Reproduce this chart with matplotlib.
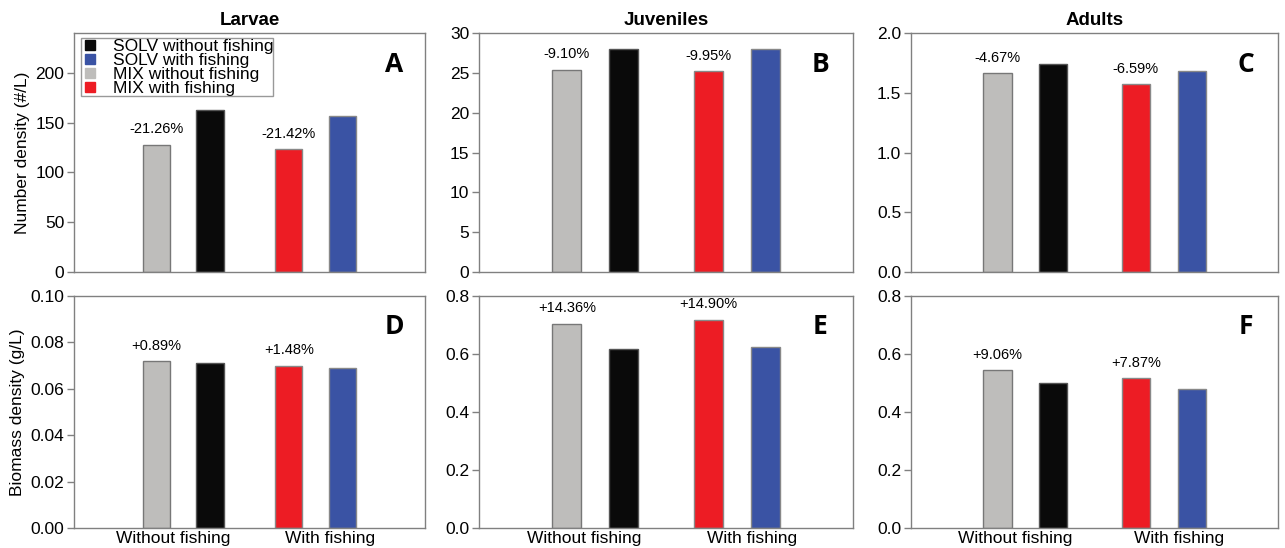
import matplotlib
matplotlib.use("Agg")
import matplotlib.pyplot as plt
from matplotlib.lines import Line2D

plt.rcParams['font.family'] = ['Liberation Sans', 'DejaVu Sans']

# ---- data ----
groups = ["Without fishing", "With fishing"]
series = ["MIX without fishing", "SOLV without fishing", "MIX with fishing", "SOLV with fishing"]
stages = ["Larvae", "Juveniles", "Adults"]

number_larvae = [128, 162.5, 123.5, 157]
number_juveniles = [25.4, 27.95, 25.2, 28.0]
number_adults = [1.665, 1.745, 1.57, 1.685]

biomass_larvae = [0.0718, 0.0712, 0.0700, 0.0690]
biomass_juveniles = [0.705, 0.617, 0.718, 0.625]
biomass_adults = [0.544, 0.499, 0.517, 0.479]

number_pct = [["-21.26%", "-21.42%"], ["-9.10%", "-9.95%"], ["-4.67%", "-6.59%"]]
biomass_pct = [["+0.89%", "+1.48%"], ["+14.36%", "+14.90%"], ["+9.06%", "+7.87%"]]

number_ylim = [240, 30, 2.0]
number_ticks = [[0, 50, 100, 150, 200], [0, 5, 10, 15, 20, 25, 30], [0.0, 0.5, 1.0, 1.5, 2.0]]
biomass_ylim = [0.10, 0.8, 0.8]
biomass_ticks = [[0.00, 0.02, 0.04, 0.06, 0.08, 0.10], [0.0, 0.2, 0.4, 0.6, 0.8], [0.0, 0.2, 0.4, 0.6, 0.8]]
tick_fmt_top = ["{:.0f}", "{:.0f}", "{:.1f}"]
tick_fmt_bot = ["{:.2f}", "{:.1f}", "{:.1f}"]
panel_letters = [["A", "B", "C"], ["D", "E", "F"]]

# ---- styling ----
colors = ["#BEBDBB", "#0A0A0A", "#ED1C24", "#3A53A4"]
edgecols = ["#777777", "#555555", "#888888", "#888888"]
xpos = [0.94, 1.55, 2.45, 3.06]
barw = 0.31
group_ticks = [1.13, 2.92]
spine_col = "#808080"

fig = plt.figure(figsize=(12.85, 5.48), dpi=100)
lefts = [0.0576, 0.3728, 0.709]
widths = [0.273, 0.291, 0.2856]
top_row = (0.5036, 0.436)
bot_row = (0.0365, 0.4234)

number_data = [number_larvae, number_juveniles, number_adults]
biomass_data = [biomass_larvae, biomass_juveniles, biomass_adults]

for r, (row, data, pcts, ylims, ticks, fmts) in enumerate([
        (top_row, number_data, number_pct, number_ylim, number_ticks, tick_fmt_top),
        (bot_row, biomass_data, biomass_pct, biomass_ylim, biomass_ticks, tick_fmt_bot)]):
    for c in range(3):
        ax = fig.add_axes([lefts[c], row[0], widths[c], row[1]])
        vals = data[c]
        ax.bar(xpos, vals, width=barw, color=colors, edgecolor=edgecols, linewidth=1.0, zorder=2)
        ax.set_xlim(0, 4)
        ax.set_ylim(0, ylims[c])
        ax.set_yticks(ticks[c])
        ax.set_yticklabels([fmts[c].format(t) for t in ticks[c]])
        ax.tick_params(axis='y', direction='out', length=5, width=1, color=spine_col,
                       labelsize=12.5, pad=2)
        ax.set_xticks(group_ticks)
        if r == 1:
            ax.set_xticklabels(groups, fontsize=12.5)
        else:
            ax.set_xticklabels([])
        ax.tick_params(axis='x', length=0, pad=2)
        for s in ax.spines.values():
            s.set_color(spine_col)
            s.set_linewidth(1.0)
        # percentage labels above MIX bars
        for gi, bi in enumerate([0, 2]):
            ax.annotate(pcts[c][gi], xy=(xpos[bi], vals[bi]), xytext=(0, 6),
                        textcoords='offset points', ha='center', va='bottom', fontsize=10.5)
        ax.text(0.913, 0.868, panel_letters[r][c], transform=ax.transAxes, ha='center',
                va='center', fontsize=19, fontweight='bold', family=['Open Sans', 'DejaVu Sans'])
        if r == 0:
            ax.set_title(stages[c], fontsize=13.5, fontweight='bold', pad=6)
        if c == 0:
            ax.set_ylabel("Number density (#/L)" if r == 0 else "Biomass density (g/L)",
                          fontsize=12.5, labelpad=4)
        if r == 0 and c == 0:
            order = [1, 3, 0, 2]
            handles = [Line2D([], [], marker='s', linestyle='none', markersize=7,
                              markerfacecolor=colors[i], markeredgecolor=colors[i]) for i in order]
            labels = [series[i] for i in order]
            leg = ax.legend(handles, labels, loc='upper left', bbox_to_anchor=(0.005, 1.0),
                            fontsize=12.5, frameon=True, fancybox=False, labelspacing=-0.06,
                            handlelength=1.0, handletextpad=0.8, borderpad=0.02,
                            borderaxespad=0.3)
            leg.get_frame().set_edgecolor(spine_col)
            leg.get_frame().set_linewidth(1.0)

fig.savefig("out.png", dpi=100)
